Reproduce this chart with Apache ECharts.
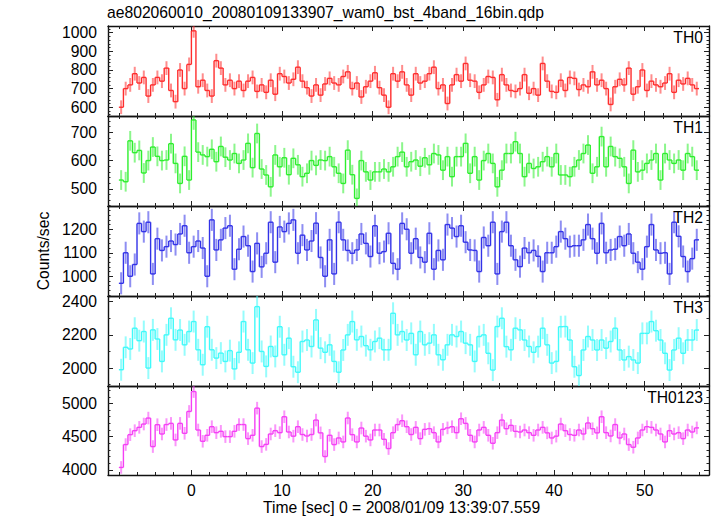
<!DOCTYPE html>
<html>
<head>
<meta charset="utf-8">
<script src="https://cdn.jsdelivr.net/npm/echarts@6.0.0/dist/echarts.min.js"></script>
<style>
html,body{margin:0;padding:0;background:#fff;}
#chart{width:717px;height:516px;}
</style>
</head>
<body>
<div id="chart"></div>
<script>
// ---- data ----
const binStart = -8;      // sec, left edge of first bin
const binWidth = 0.5;     // sec
const th0 = [600,700,720,780,730,760,660,720,760,740,
810,690,630,800,700,830,1010,710,745,690,
660,850,810,720,745,700,740,690,740,760,
685,720,680,745,670,780,765,730,750,815,
740,705,660,720,665,725,755,730,720,765,
790,700,730,655,710,740,785,705,665,600,
780,740,790,720,665,
780,730,740,780,815,
700,720,620,720,775,740,835,745,740,680,
720,765,760,640,775,720,690,685,700,775,
675,700,665,835,740,685,680,745,690,760,
755,695,720,710,790,720,745,700,615,710,
750,720,810,670,710,800,690,740,720,710,
730,780,680,745,725,755,720,700];
const th1 = [531,525,670,628,636,556,600,648,615,600,
602,660,590,519,615,531,744,630,620,614,
640,596,650,612,602,625,590,602,661,575,
696,570,549,507,620,578,610,550,608,585,
543,555,600,583,602,600,614,578,555,519,
637,550,466,600,560,531,560,560,570,560,
578,614,630,578,596,
602,580,610,585,625,
620,566,614,543,614,614,661,555,614,531,
600,625,590,507,566,625,625,667,625,543,
590,572,578,596,614,578,625,549,549,543,
578,602,625,655,555,578,685,578,650,614,
608,578,519,637,560,566,590,602,625,531,
625,602,590,602,566,625,614,566];
const th2 = [970,1100,1000,1050,1225,1190,1230,1010,1160,1110,
1126,1150,1135,1180,1215,1100,1126,1150,1120,1000,
1240,1112,1155,1205,1215,1030,1115,1169,1130,1020,
1140,1040,1098,1230,1060,1210,1190,1225,1240,1098,
1175,1112,1150,1226,1080,1000,1155,1010,1230,1155,
1110,1098,1112,1180,1140,1084,1215,1098,1105,1183,
1055,1030,1225,1200,1098,
1160,1080,1060,1183,1030,
1110,1070,1220,1205,1169,1215,1145,1112,1110,1020,
1165,1130,1230,1010,1190,1230,1130,1070,1041,1120,
1100,1110,1085,1020,1100,1100,1126,1190,1160,1126,
1130,1130,1155,1220,1160,1098,1225,1100,1112,1115,
1169,1130,1180,1098,1060,1030,1126,1220,1112,1098,
1100,1010,1230,1170,1084,1020,1075,1155];
const th3 = [1990,2125,2115,2240,2165,2220,2000,2230,2175,2040,
2200,2300,2170,2229,2140,2220,2280,2110,2020,2249,
2110,2060,2090,2040,2105,1995,2095,2280,2110,2030,
2370,2100,2010,2130,2070,2249,2080,2180,2008,1975,
2160,2169,2130,2290,2120,2095,2140,2040,1975,2109,
2200,2280,2170,2190,2135,2110,2160,2180,2110,2110,
2330,2200,2220,2169,2209,
2080,2220,2140,2150,2200,
2080,2050,2140,2200,2190,2220,2150,2140,2040,2190,
2200,2089,1988,2250,2300,2129,2110,2240,2230,2169,
2130,2095,2129,2240,2140,2030,2040,2249,2250,2169,
2008,1955,2109,2190,2169,2109,2169,2120,2160,2240,
2109,2049,2069,2049,2030,2209,2209,2280,2225,2169,
2089,1988,2109,2180,2089,2169,2169,2229];
const th0123 = [4035,4380,4530,4590,4640,4690,4780,4350,4680,4540,
4682,4700,4450,4700,4550,4880,5180,4600,4430,4520,
4650,4560,4580,4500,4500,4580,4682,4682,4470,4520,
4930,4350,4383,4540,4590,4560,4800,4570,4507,4650,
4532,4510,4532,4750,4557,4200,4520,4380,4480,4420,
4781,4530,4420,4630,4507,4450,4600,4600,4460,4320,
4560,4682,4740,4650,4532,
4640,4470,4610,4620,4560,
4420,4610,4632,4650,4560,4770,4700,4520,4420,4600,
4640,4520,4400,4560,4750,4620,4670,4580,4570,4600,
4560,4520,4600,4640,4557,4480,4507,4690,4590,4532,
4520,4600,4540,4706,4620,4557,4800,4560,4510,4682,
4480,4540,4380,4340,4480,4600,4650,4640,4600,4540,
4420,4590,4540,4560,4470,4600,4570,4632];
// typical 1-sigma error per panel (counts/sec)
const errBar = [37, 35, 47, 66, 95];
const panelNames = ['TH0', 'TH1', 'TH2', 'TH3', 'TH0123'];
const panelData = [th0, th1, th2, th3, th0123];
const xMajorTicks = [0, 10, 20, 30, 40, 50];
const yMajorTicks = [[600,700,800,900,1000],[500,600,700],[1000,1100,1200],[2000,2200,2400],[4000,4500,5000]];
const yMinorStep = [20, 20, 20, 100, 100];
const yRanges = [[553,1036],[439,758],[916,1299],[1892,2434],[3921,5264]];
const xRange = [-9.2, 57.1];
const xMinorStep = 2;
const chartTitle = 'ae802060010_20080109133907_wam0_bst_4band_16bin.qdp';
const xTitle = 'Time [sec] 0 = 2008/01/09 13:39:07.559';
const yTitle = 'Counts/sec';

// ---- layout / style ----
const colors = ['#ff2d2d', '#2def2d', '#3232e8', '#3ffafa', '#f53ff5'];
const FONT = "'Liberation Sans', Arial, Helvetica, sans-serif";
const FS = 15.7;
const gridLeft = 108, gridRight = 8, gridTop = 26, panelH = 90;

function range(a, b, step) { const r = []; for (let v = Math.ceil(a/step)*step; v <= b + 1e-9; v += step) r.push(+v.toFixed(6)); return r; }
const xMinorTicks = range(xRange[0], xRange[1], xMinorStep);
const plain = v => String(v);

const grids = [], xAxes = [], yAxes = [], series = [], titles = [];
titles.push({text: chartTitle, left: 107, top: 4, padding: 0,
  textStyle: {fontSize: FS, fontWeight: 'normal', color: '#000', fontFamily: FONT}});

for (let k = 0; k < 5; k++) {
  grids.push({left: gridLeft, right: gridRight, top: gridTop + panelH * k, height: panelH, show: false});
  const isLast = k === 4;
  ['bottom', 'top'].forEach(pos => {
    [true, false].forEach(major => {
      xAxes.push({
        type: 'value', gridIndex: k, position: pos, min: xRange[0], max: xRange[1],
        axisLine: {show: major, onZero: false, lineStyle: {color: '#111', width: 1.4}},
        axisTick: {show: true, inside: true, length: major ? 5 : 3,
          customValues: major ? xMajorTicks : xMinorTicks, lineStyle: {color: '#222', width: 1}},
        axisLabel: {show: major && pos === 'bottom' && isLast, customValues: xMajorTicks, formatter: plain,
          fontSize: FS, color: '#000', fontFamily: FONT, margin: 7},
        splitLine: {show: false},
        name: (major && pos === 'bottom' && isLast) ? xTitle : '',
        nameLocation: 'middle', nameGap: 24,
        nameTextStyle: {fontSize: FS, color: '#000', fontFamily: FONT, padding: [0, 14, 0, 0]}
      });
    });
  });
  const yMinor = range(yRanges[k][0], yRanges[k][1], yMinorStep[k]);
  ['left', 'right'].forEach(pos => {
    [true, false].forEach(major => {
      yAxes.push({
        type: 'value', gridIndex: k, position: pos, min: yRanges[k][0], max: yRanges[k][1],
        axisLine: {show: major, onZero: false, lineStyle: {color: '#111', width: 1.4}},
        axisTick: {show: true, inside: true, length: major ? 5 : 2.5,
          customValues: major ? yMajorTicks[k] : yMinor, lineStyle: {color: '#222', width: 1}},
        axisLabel: {show: major && pos === 'left', customValues: yMajorTicks[k], formatter: plain,
          fontSize: FS, color: '#000', fontFamily: FONT, margin: 11},
        splitLine: {show: false},
        name: (major && pos === 'left' && k === 2) ? yTitle : '',
        nameLocation: 'middle', nameGap: 57, nameRotate: 90,
        nameTextStyle: {fontSize: FS, color: '#000', fontFamily: FONT}
      });
    });
  });
  titles.push({text: panelNames[k], right: 14, top: gridTop + panelH * k + 3, padding: 0,
    textStyle: {fontSize: FS, fontWeight: 'normal', color: '#000', fontFamily: FONT}});

  const vals = panelData[k];
  const data = vals.map((v, i) => [binStart + binWidth * (i + 0.5), v, errBar[k], i > 0 ? vals[i - 1] : v]);
  series.push({
    type: 'custom', xAxisIndex: 4 * k, yAxisIndex: 4 * k, clip: true,
    itemStyle: {color: colors[k]},
    encode: {x: 0, y: 1},
    data: data,
    renderItem: function (params, api) {
      const t = api.value(0), v = api.value(1), e = api.value(2), p = api.value(3);
      const hw = binWidth / 2;
      const a = api.coord([t - hw, v]), b = api.coord([t + hw, v]);
      const et = api.coord([t, v + e]), eb = api.coord([t, v - e]);
      const c = api.coord([t - hw, p]);
      const col = colors[k];
      return {type: 'group', children: [
        {type: 'line', shape: {x1: et[0], y1: et[1], x2: eb[0], y2: eb[1]}, style: {stroke: col, lineWidth: 2, opacity: 0.55}},
        {type: 'line', shape: {x1: c[0], y1: c[1], x2: a[0], y2: a[1]}, style: {stroke: col, lineWidth: 1.4}},
        {type: 'line', shape: {x1: a[0], y1: a[1], x2: b[0], y2: b[1]}, style: {stroke: col, lineWidth: 1.4}}
      ]};
    }
  });
}

const chart = echarts.init(document.getElementById('chart'), null, {renderer: 'svg'});
chart.setOption({
  animation: false,
  backgroundColor: '#fff',
  title: titles,
  grid: grids,
  xAxis: xAxes,
  yAxis: yAxes,
  series: series
});
</script>
</body>
</html>
